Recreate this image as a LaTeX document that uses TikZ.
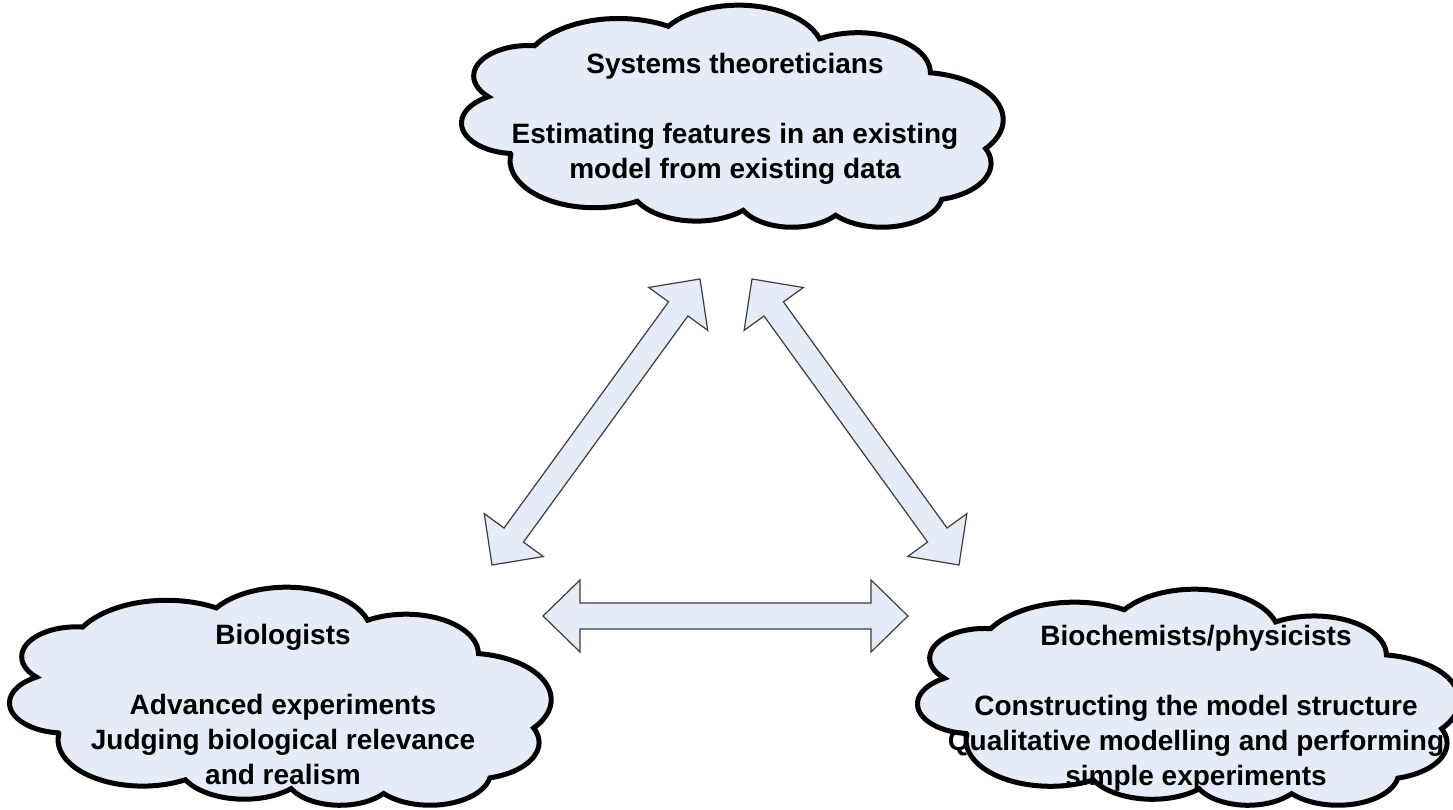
\documentclass[tikz,border=0pt]{standalone}
\usepackage{fontspec}
\setmainfont{Liberation Sans}
\usetikzlibrary{calc}
\definecolor{cloudfill}{RGB}{229,236,247}
\definecolor{arrowfill}{RGB}{229,236,247}
\definecolor{arrowline}{RGB}{60,60,60}
\tikzset{
  cloudline/.style={draw=black, line width=5pt, fill=cloudfill, line join=miter},
  blockarrow/.style={draw=arrowline, line width=1.2pt, fill=arrowfill, line join=miter},
  cloudtext/.style={anchor=base, inner sep=0pt, font=\fontsize{28}{35}\selectfont\bfseries},
}
% cloud in a box: #1,#2 lower-left corner, #3,#4 scale of the 432-unit box
\newcommand{\cloudat}[4]{%
  \begin{scope}[shift={(#1,#2)}, x=#3pt, y=#4pt]
    \path[cloudline] (39.00,143.70)
      arc[start angle=-187.75, end angle=-59.67, x radius=67.53, y radius=91.90]
      arc[start angle=-152.02, end angle=-45.41, x radius=53.33, y radius=72.67]
      arc[start angle=-153.49, end angle=-37.34, x radius=43.65, y radius=59.45]
      arc[start angle=-139.72, end angle=-10.21, x radius=48.57, y radius=65.95]
      arc[start angle=-74.77, end angle=23.21, x radius=53.33, y radius=72.73]
      arc[start angle=-37.54, end angle=81.86, x radius=67.75, y radius=92.20]
      arc[start angle=0.46, end angle=121.98, x radius=57.85, y radius=78.67]
      arc[start angle=16.85, end angle=146.29, x radius=67.52, y radius=92.15]
      arc[start angle=58.98, end angle=150.19, x radius=77.20, y radius=105.43]
      arc[start angle=-276.69, end angle=-136.90, x radius=43.60, y radius=59.18]
      arc[start angle=-239.65, end angle=-95.89, x radius=43.45, y radius=59.45]
      -- cycle;
  \end{scope}}
% double block arrow: #1 tip A, #2 tip B, #3 head length, #4 head half width, #5 shaft half width
\newcommand{\dblarrow}[5]{%
  \coordinate (hA) at ($(#1)!#3!(#2)$);
  \coordinate (hB) at ($(#2)!#3!(#1)$);
  \path[blockarrow] (#1) -- ($(hA)!#4!90:(#2)$) -- ($(hA)!#5!90:(#2)$)
    -- ($(hB)!#5!-90:(#1)$) -- ($(hB)!#4!-90:(#1)$) -- (#2)
    -- ($(hB)!#4!90:(#1)$) -- ($(hB)!#5!90:(#1)$)
    -- ($(hA)!#5!-90:(#2)$) -- ($(hA)!#4!-90:(#2)$) -- cycle;}
\begin{document}
\begin{tikzpicture}[x=1pt, y=1pt]
  \fill[white] (0,0) rectangle (1453,810);
  \useasboundingbox (0,0) rectangle (1453,810);

  % clouds
  \cloudat{462}{582}{1.25231}{0.51389}
  \cloudat{10}{4}{1.25231}{0.50463}
  \cloudat{918}{4}{1.25231}{0.5}

  % texts
  \node[cloudtext] (sys) at (735,736) {\begin{tabular}[t]{@{}c@{}}Systems theoreticians\\ \\ Estimating features in an existing\\ model from existing data\end{tabular}};
  \node[cloudtext] (bio) at (283,165) {\begin{tabular}[t]{@{}c@{}}Biologists\\ \\ Advanced experiments\\ Judging biological relevance\\ and realism\end{tabular}};
  \node[cloudtext] (chem) at (1196,164) {\begin{tabular}[t]{@{}c@{}}Biochemists/physicists\\ \\ Constructing the model structure\\ Qualitative modelling and performing\\ simple experiments\end{tabular}};

  % arrow end points
  \coordinate (bioR) at (543,194);
  \coordinate (chemL) at (908,194);
  \coordinate (bioT) at (492,245);
  \coordinate (sysL) at (700,531);
  \coordinate (sysR) at (752,531);
  \coordinate (chemT) at (959,245);

  \dblarrow{bioR}{chemL}{37pt}{36pt}{13pt}
  \dblarrow{bioT}{sysL}{37pt}{36.5pt}{12pt}
  \dblarrow{sysR}{chemT}{37pt}{36.5pt}{12pt}
\end{tikzpicture}
\end{document}
